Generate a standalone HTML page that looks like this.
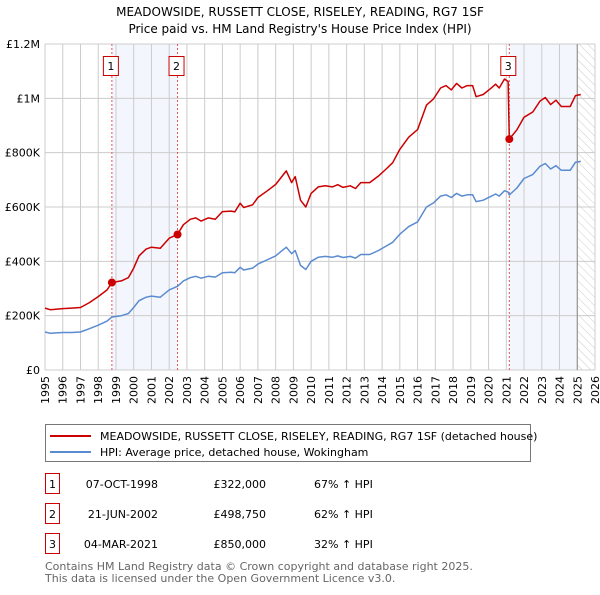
<!DOCTYPE html>
<html><head><meta charset="utf-8"><style>
body{margin:0;background:#fff;font-family:"Liberation Sans","DejaVu Sans",sans-serif;}
svg text{font-family:"DejaVu Sans","Liberation Sans",sans-serif;}
</style></head><body>
<svg id="chart" width="600" height="590" viewBox="0 0 600 590" xmlns="http://www.w3.org/2000/svg">
<defs><pattern id="hatch" width="6" height="6" patternUnits="userSpaceOnUse" patternTransform="rotate(-45)"><line x1="0" y1="0" x2="0" y2="6" stroke="#ccc" stroke-width="1"/></pattern></defs>
<text x="300" y="16" text-anchor="middle" font-size="12" fill="#000">MEADOWSIDE, RUSSETT CLOSE, RISELEY, READING, RG7 1SF</text>
<text x="300" y="33" text-anchor="middle" font-size="12" fill="#000">Price paid vs. HM Land Registry's House Price Index (HPI)</text>
<g id="plot"></g>
<rect x="45.5" y="424.5" width="485" height="37" fill="#fff" stroke="#777"/>
<line x1="50" y1="436" x2="91" y2="436" stroke="#cc0000" stroke-width="2"/>
<text x="100" y="440" font-size="11">MEADOWSIDE, RUSSETT CLOSE, RISELEY, READING, RG7 1SF (detached house)</text>
<line x1="50" y1="452" x2="91" y2="452" stroke="#5b8bd0" stroke-width="2"/>
<text x="100" y="456" font-size="11">HPI: Average price, detached house, Wokingham</text>
<g id="table" font-size="11"></g>
<text x="45" y="570" font-size="11" fill="#666">Contains HM Land Registry data © Crown copyright and database right 2025.</text>
<text x="45" y="582" font-size="11" fill="#666">This data is licensed under the Open Government Licence v3.0.</text>
</svg>
<script>
const years=[1995.0,1995.3,1996.0,1996.5,1997.0,1997.5,1998.0,1998.5,1998.77,1999.3,1999.7,2000.0,2000.3,2000.7,2001.0,2001.5,2002.0,2002.47,2002.8,2003.2,2003.5,2003.8,2004.2,2004.6,2005.0,2005.5,2005.7,2006.0,2006.2,2006.7,2007.0,2007.5,2008.0,2008.6,2008.9,2009.1,2009.4,2009.7,2010.0,2010.4,2010.8,2011.2,2011.5,2011.8,2012.2,2012.5,2012.8,2013.3,2013.8,2014.2,2014.6,2015.0,2015.5,2016.0,2016.5,2016.9,2017.3,2017.6,2017.9,2018.2,2018.5,2018.8,2019.1,2019.3,2019.7,2020.1,2020.4,2020.6,2020.9,2021.1,2021.17,2021.6,2022.0,2022.5,2022.9,2023.2,2023.5,2023.8,2024.1,2024.6,2024.9,2025.2];
const hpiValues=[140,135,138,138,140,152,165,180,195,200,208,230,255,268,272,268,295,308,328,340,345,338,345,342,358,360,358,378,368,375,390,405,420,452,428,440,385,370,400,415,418,415,420,414,418,412,425,425,440,455,470,500,528,545,600,615,640,645,635,650,640,645,645,620,625,638,648,640,660,655,644,670,705,720,750,760,740,752,735,735,765,768];
const priceValues=[228,222,226,228,230,248,270,295,322,328,340,375,420,445,452,448,485,499,535,555,560,548,560,555,583,585,582,614,598,608,635,658,683,733,690,712,625,600,650,674,678,674,682,672,678,668,690,690,714,738,763,812,857,885,975,998,1038,1047,1031,1055,1038,1047,1047,1006,1014,1035,1052,1038,1071,1062,850,884,930,950,990,1003,977,993,970,970,1010,1014];
const yTicks=[0,200,400,600,800,1000,1200];
const yTickLabels=["£0","£200K","£400K","£600K","£800K","£1M","£1.2M"];
const xTicks=[1995,1996,1997,1998,1999,2000,2001,2002,2003,2004,2005,2006,2007,2008,2009,2010,2011,2012,2013,2014,2015,2016,2017,2018,2019,2020,2021,2022,2023,2024,2025,2026];
const saleYears=[1998.77,2002.47,2021.17];
const salePrices=[322,498.75,850];
const saleLabels=["1","2","3"];
const saleDates=["07-OCT-1998","21-JUN-2002","04-MAR-2021"];
const salePriceText=["£322,000","£498,750","£850,000"];
const saleHpiText=["67% ↑ HPI","62% ↑ HPI","32% ↑ HPI"];
const dataEnd=2025.0;

const X0=45,X1=595,Y0=370,Y1=44;
const xs=y=>X0+(y-1995)/(2026-1995)*(X1-X0);
const ys=v=>Y0-v/1200*(Y0-Y1);
const NS="http://www.w3.org/2000/svg";
const plot=document.getElementById('plot');
function mk(tag,attrs,parent){const e=document.createElementNS(NS,tag);for(const k in attrs)e.setAttribute(k,attrs[k]);(parent||plot).appendChild(e);return e;}

let e;
e=mk('rect',{x:xs(saleYears[0]),y:Y1,width:xs(saleYears[1])-xs(saleYears[0]),height:Y0-Y1,fill:'#f3f6fd'});


e=mk('rect',{x:xs(saleYears[2]),y:Y1,width:xs(dataEnd)-xs(saleYears[2]),height:Y0-Y1,fill:'#f3f6fd'});


e=mk('rect',{x:xs(dataEnd),y:Y1,width:X1-xs(dataEnd),height:Y0-Y1,fill:'url(#hatch)'});



xTicks.forEach(t=>{
  e=mk('line',{x1:xs(t),x2:xs(t),y1:Y1,y2:Y0,stroke:'#ccc','stroke-width':1});
  
  
  e=mk('text',{x:0,y:0,transform:`translate(${xs(t)+4},${Y0+6}) rotate(-90)`,'text-anchor':'end','font-size':11,fill:'#000'});
  e.textContent=t;
  
  
});
yTicks.forEach((t,i)=>{
  e=mk('line',{x1:X0,x2:X1,y1:ys(t),y2:ys(t),stroke:'#ccc','stroke-width':1});
  
  
  e=mk('text',{x:X0-5,y:ys(t)+4,'text-anchor':'end','font-size':11,fill:'#000'});
  e.textContent=yTickLabels[i];
  
  
});
e=mk('line',{x1:xs(dataEnd),x2:xs(dataEnd),y1:Y1,y2:Y0,stroke:'#888','stroke-width':1});



saleYears.forEach((s,i)=>{
  e=mk('line',{x1:xs(s),x2:xs(s),y1:Y1,y2:Y0,stroke:'#e05555','stroke-width':1,'stroke-dasharray':'2,2'});
  
  
});

const pts=a=>years.map((y,i)=>xs(y).toFixed(1)+','+ys(a[i]).toFixed(1)).join(' ');
e=mk('polyline',{points:pts(hpiValues),fill:'none',stroke:'#5b8bd0','stroke-width':1.5,'stroke-linejoin':'round'});


e=mk('polyline',{points:pts(priceValues),fill:'none',stroke:'#cc0000','stroke-width':1.5,'stroke-linejoin':'round'});



saleYears.forEach((s,i)=>{
  e=mk('circle',{cx:xs(s),cy:ys(salePrices[i]),r:4,fill:'#cc0000'});
  
  
  e=mk('rect',{x:xs(s)-8.5,y:56.5,width:15,height:19,fill:'#fff',stroke:'#cc0000'});
  
  
  e=mk('text',{x:xs(s)-1,y:70,'text-anchor':'middle','font-size':11,fill:'#000'});
  e.textContent=saleLabels[i];
  
  
});

const tb=document.getElementById('table');
saleLabels.forEach((l,i)=>{
  const cy=484+i*30;
  e=mk('rect',{x:45.5,y:cy-10.5,width:14,height:20,fill:'#fff',stroke:'#cc0000'},tb);
  
  
  e=mk('text',{x:52.5,y:cy+4,'text-anchor':'middle'},tb);e.textContent=l;
  
  
  e=mk('text',{x:158,y:cy+4,'text-anchor':'end'},tb);e.textContent=saleDates[i];
  
  
  e=mk('text',{x:266,y:cy+4,'text-anchor':'end'},tb);e.textContent=salePriceText[i];
  
  
  e=mk('text',{x:314,y:cy+4},tb);e.textContent=saleHpiText[i];
  
  
});
</script>
</body></html>
